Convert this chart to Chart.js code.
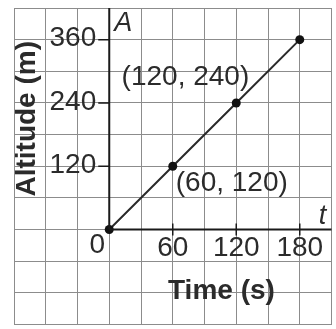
<!DOCTYPE html>
<html>
<head>
<meta charset="utf-8">
<script src="https://cdn.jsdelivr.net/npm/chart.js@4.4.1/dist/chart.umd.min.js"></script>
<style>
  html, body { margin: 0; padding: 0; background: #ffffff; }
  #wrap { width: 336px; height: 329px; }
</style>
</head>
<body>
<div id="wrap"><canvas id="c" width="336" height="329"></canvas></div>
<script>
// Motion data: time in seconds, altitude in metres
const times = [0, 60, 120, 180];
const altitudes = [0, 120, 240, 360];
// Labelled points on the line
const labelledPoints = [1, 2];
// Axis tick labels
const xTickValues = [60, 120, 180];
const yTickValues = [120, 240, 360];
const xTitle = 'Time (s)';
const yTitle = 'Altitude (m)';
const xVar = 't';
const yVar = 'A';

const FONT = '"Liberation Sans", Arial, sans-serif';
const INK = '#2b2b2b';

const axesAndLabels = {
  id: 'axesAndLabels',
  afterDatasetsDraw(chart) {
    const ctx = chart.ctx;
    const xs = chart.scales.x, ys = chart.scales.y;
    const ox = xs.getPixelForValue(0), oy = ys.getPixelForValue(0);
    const area = chart.chartArea;
    ctx.save();
    ctx.strokeStyle = '#1a1a1a';
    ctx.lineWidth = 2;
    // axes
    ctx.beginPath();
    ctx.moveTo(ox, oy);
    ctx.lineTo(ox, area.top);
    ctx.moveTo(ox, oy);
    ctx.lineTo(area.right, oy);
    ctx.stroke();
    // tick marks
    ctx.lineWidth = 1.5;
    ctx.beginPath();
    yTickValues.forEach(v => {
      const y = ys.getPixelForValue(v);
      ctx.moveTo(ox - 11, y);
      ctx.lineTo(ox, y);
    });
    xTickValues.forEach(v => {
      const x = xs.getPixelForValue(v);
      ctx.moveTo(x, oy - 6);
      ctx.lineTo(x, oy + 6);
    });
    ctx.stroke();

    ctx.fillStyle = INK;
    ctx.font = '28px ' + FONT;
    ctx.textBaseline = 'middle';
    ctx.textAlign = 'right';
    yTickValues.forEach(v => {
      ctx.fillText(String(v), ox - 13, ys.getPixelForValue(v) - 1);
    });
    ctx.textAlign = 'center';
    xTickValues.forEach(v => {
      ctx.fillText(String(v), xs.getPixelForValue(v), oy + 19);
    });
    ctx.fillText('0', ox - 12, oy + 16);

    // point coordinate labels
    const p1 = labelledPoints[0], p2 = labelledPoints[1];
    ctx.textAlign = 'left';
    ctx.fillText('(' + times[p1] + ', ' + altitudes[p1] + ')',
      xs.getPixelForValue(times[p1]) + 3, ys.getPixelForValue(altitudes[p1]) + 17);
    ctx.textAlign = 'right';
    ctx.fillText('(' + times[p2] + ', ' + altitudes[p2] + ')',
      xs.getPixelForValue(times[p2]) + 13, ys.getPixelForValue(altitudes[p2]) - 26);

    // variable names
    ctx.font = 'italic 27px ' + FONT;
    ctx.textAlign = 'center';
    ctx.fillText(yVar, ox + 14, area.top + 15);
    ctx.fillText(xVar, area.right - 9, oy - 13);

    // axis titles
    ctx.font = 'bold 28px ' + FONT;
    ctx.fillText(xTitle, xs.getPixelForValue(106), oy + 62);
    ctx.save();
    ctx.translate(area.left + 13, ys.getPixelForValue(210));
    ctx.rotate(-Math.PI / 2);
    ctx.fillText(yTitle, 0, 0);
    ctx.restore();
    ctx.restore();
  }
};

new Chart(document.getElementById('c'), {
  type: 'scatter',
  data: {
    datasets: [{
      data: times.map((t, i) => ({ x: t, y: altitudes[i] })),
      showLine: true,
      borderColor: '#2a2a2a',
      borderWidth: 2,
      pointRadius: 4.5,
      pointBackgroundColor: '#111111',
      pointBorderColor: '#111111',
      pointBorderWidth: 0
    }]
  },
  options: {
    responsive: false,
    animation: false,
    devicePixelRatio: 1,
    layout: { padding: { left: 14, right: 3, top: 8, bottom: 2 } },
    plugins: { legend: { display: false }, tooltip: { enabled: false } },
    scales: {
      x: {
        type: 'linear', min: -90, max: 210,
        ticks: { display: false, stepSize: 30 },
        grid: { color: '#8c8c8c', lineWidth: 1, drawTicks: false },
        border: { display: false }
      },
      y: {
        type: 'linear', min: -180, max: 420,
        ticks: { display: false, stepSize: 60 },
        grid: { color: '#8c8c8c', lineWidth: 1, drawTicks: false },
        border: { display: false }
      }
    }
  },
  plugins: [axesAndLabels]
});
</script>
</body>
</html>
